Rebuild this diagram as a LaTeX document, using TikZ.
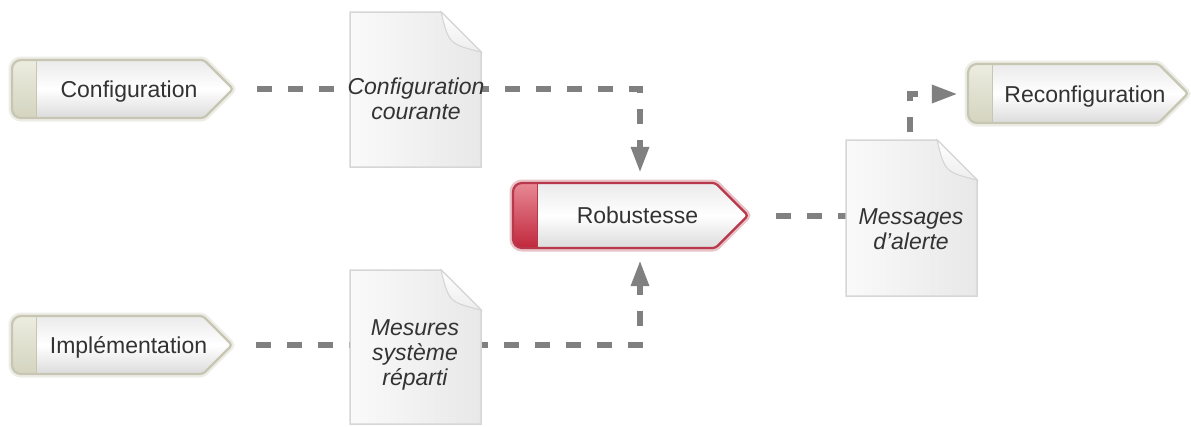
\documentclass[tikz,border=0pt]{standalone}
\usepackage{fontspec}
\setmainfont{Liberation Sans}
\usetikzlibrary{arrows.meta,calc}
\definecolor{linegray}{HTML}{808080}
\definecolor{txt}{HTML}{333333}
\definecolor{tagborder}{HTML}{C6C6B2}
\definecolor{captop}{HTML}{ECECE0}
\definecolor{capbot}{HTML}{D4D4C0}
\definecolor{redborder}{HTML}{B8394B}
\definecolor{redtop}{HTML}{E88894}
\definecolor{redbot}{HTML}{C0283C}
\definecolor{docborder}{HTML}{D6D6D6}

\newcommand\tagoutline[1]{\path[#1, rounded corners=3pt] (\ttip,\tyc) -- (\txb,\tyb) [rounded corners=9pt] -- (\txl,\tyb) -- (\txl,\tyt) [rounded corners=3pt] -- (\txb,\tyt) -- cycle;}
\newcommand\drawtag[7]{%
  \def\txl{#1}\def\tyt{#2}\def\tyb{#3}\def\ttip{#4}%
  \pgfmathsetmacro\tyc{(#2+#3)/2}%
  \pgfmathsetmacro\txb{#4-(#3-#2)/2}%
  \pgfmathsetmacro\txc{#1+24}%
  \tagoutline{draw=#5, line width=7pt, opacity=0.3}
  \tagoutline{top color=white!92!black, bottom color=white!86!black, middle color=white}
  \begin{scope}
    \tagoutline{clip}
    \fill[top color=#6, bottom color=#7] (\txl,\tyt) rectangle (\txc,\tyb);
    \draw[#5, line width=1pt] (\txc,\tyt) -- (\txc,\tyb);
  \end{scope}
  \tagoutline{draw=#5, line width=2.2pt}
}
\newcommand\drawdoc[4]{%
  \pgfmathsetmacro\dfx{#3-40}\pgfmathsetmacro\dfy{#2+40}%
  \filldraw[left color=white!98!black, right color=white!91!black, draw=docborder, line width=1.5pt]
    (#1,#2) -- (\dfx,#2) -- (#3,\dfy) -- (#3,#4) -- (#1,#4) -- cycle;
  \filldraw[top color=white, bottom color=white!93!black, draw=docborder, line width=1pt]
    (\dfx,#2) .. controls (\dfx+8,#2+32) .. (#3,\dfy) -- cycle;
}

\begin{document}
\begin{tikzpicture}[x=1pt,y=-1pt,
  conn/.style={draw=linegray, line width=6pt, dash pattern=on 15pt off 16pt,
    -{Triangle[length=26pt,width=17pt]}},
  tagtext/.style={text=txt, font=\fontsize{23}{25}\selectfont, text height=16.6pt,
    text depth=0pt, inner sep=0pt},
  doctext/.style={text=txt, font=\itshape\fontsize{23}{25}\selectfont, align=center,
    inner sep=0pt}]
\useasboundingbox (0,0) rectangle (1191,426);
\fill[white] (0,0) rectangle (1191,426);

% tags
\drawtag{12}{60}{118}{233}{tagborder}{captop}{capbot}
\node[tagtext, minimum width=188pt, minimum height=58pt] (conf) at (129,89) {Configuration};
\drawtag{12}{316}{374}{232}{tagborder}{captop}{capbot}
\node[tagtext, minimum width=187pt, minimum height=58pt] (impl) at (128.5,345) {Implémentation};
\drawtag{513}{183}{248}{748}{redborder}{redtop}{redbot}
\node[tagtext, minimum width=201pt, minimum height=65pt] (rob) at (637.5,215.5) {Robustesse};
\drawtag{968}{64}{123}{1188}{tagborder}{captop}{capbot}
\node[tagtext, minimum width=186pt, minimum height=59pt] (reconf) at (1085,94) {Reconfiguration};

% connectors
\coordinate (bend) at (910,150);
\draw[conn] ([xshift=34pt]conf.east) -| ([xshift=2.5pt,yshift=10pt]rob.north);
\draw[conn] ([xshift=34pt]impl.east) -| ([xshift=2.5pt,yshift=-12pt]rob.south);
\draw[conn] ([xshift=38pt]rob.east) -| (bend) |- ([xshift=-34pt]reconf.west);

% documents
\drawdoc{350}{12}{481}{167}
\node[doctext] (d1) at (416,99) {Configuration\\courante};
\drawdoc{846}{140}{977}{296}
\node[doctext] (d2) at (911,229) {Messages\\d'alerte};
\drawdoc{350}{270}{481}{424}
\node[doctext] (d3) at (415,355) {Mesures\\système\\réparti};
\end{tikzpicture}
\end{document}
